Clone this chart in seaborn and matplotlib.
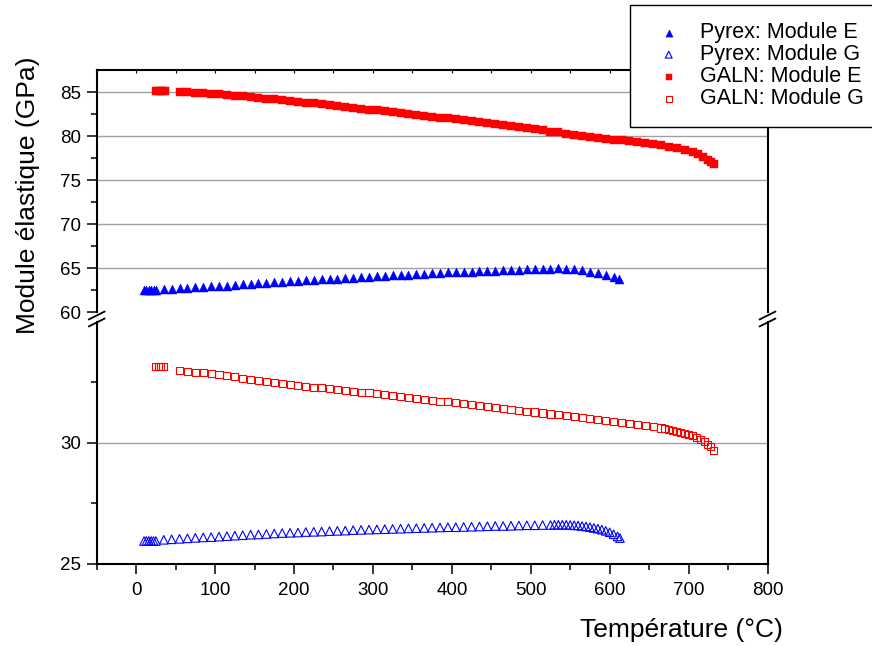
import numpy as np
import pandas as pd
import matplotlib
matplotlib.use("Agg")
import matplotlib.pyplot as plt
from matplotlib.lines import Line2D
from matplotlib.ticker import MultipleLocator, FixedLocator
import seaborn as sns

# ---- data ----
pyrex_E_T = [10, 13, 16, 19, 22, 25,
             35, 45, 55, 65, 75, 85, 95, 105, 115, 125, 135, 145, 155, 165, 175,
             185, 195, 205, 215, 225, 235, 245, 255, 265, 275, 285, 295, 305, 315,
             325, 335, 345, 355, 365, 375, 385, 395, 405, 415, 425, 435, 445, 455,
             465, 475, 485, 495, 505, 515, 525, 535, 545, 555, 565, 575, 585, 595,
             605, 612]
pyrex_E = [62.5, 62.5, 62.5, 62.5, 62.5, 62.5,
           62.6, 62.65, 62.7, 62.75, 62.8, 62.85, 62.9, 62.95, 63.0, 63.1, 63.15,
           63.2, 63.3, 63.35, 63.4, 63.45, 63.5, 63.55, 63.6, 63.65, 63.7, 63.75,
           63.8, 63.85, 63.9, 63.95, 64.0, 64.05, 64.1, 64.15, 64.2, 64.25, 64.3,
           64.35, 64.4, 64.45, 64.5, 64.52, 64.55, 64.6, 64.63, 64.67, 64.7, 64.73,
           64.77, 64.8, 64.83, 64.86, 64.9, 64.92, 64.95, 64.93, 64.85, 64.75,
           64.6, 64.45, 64.25, 64.0, 63.75]

pyrex_G_T = [10, 13, 16, 19, 22, 25,
             35, 45, 55, 65, 75, 85, 95, 105, 115, 125, 135, 145, 155, 165, 175,
             185, 195, 205, 215, 225, 235, 245, 255, 265, 275, 285, 295, 305, 315,
             325, 335, 345, 355, 365, 375, 385, 395, 405, 415, 425, 435, 445, 455,
             465, 475, 485, 495, 505, 515, 525, 530, 535, 540, 545, 550, 555, 560,
             565, 570, 575, 580, 585, 590, 595, 600, 605, 610, 613]
pyrex_G = [25.95, 25.95, 25.95, 25.95, 25.95, 25.95,
           26.0, 26.02, 26.04, 26.06, 26.08, 26.1, 26.11, 26.13, 26.15, 26.17,
           26.19, 26.21, 26.22, 26.24, 26.26, 26.28, 26.29, 26.3, 26.32, 26.33,
           26.34, 26.36, 26.37, 26.38, 26.4, 26.41, 26.42, 26.43, 26.44, 26.45,
           26.46, 26.47, 26.48, 26.49, 26.5, 26.51, 26.52, 26.52, 26.53, 26.54,
           26.55, 26.56, 26.57, 26.57, 26.58, 26.59, 26.6, 26.6, 26.61, 26.61,
           26.62, 26.62, 26.62, 26.62, 26.61, 26.6, 26.59, 26.57, 26.55, 26.52,
           26.49, 26.46, 26.42, 26.37, 26.31, 26.23, 26.14, 26.07]

galn_E_T = [25, 28, 31, 34, 37,
            55, 65, 75, 85, 95, 105, 115, 125, 135, 145, 155, 165, 175, 185, 195,
            205, 215, 225, 235, 245, 255, 265, 275, 285, 295, 305, 315, 325, 335,
            345, 355, 365, 375, 385, 395, 405, 415, 425, 435, 445, 455, 465, 475,
            485, 495, 505, 515, 525, 535, 545, 555, 565, 575, 585, 595, 605, 615,
            625, 635, 645, 655, 665, 675, 685, 695, 705, 712, 718, 724, 729, 732]
galn_E = [85.1, 85.1, 85.1, 85.1, 85.1,
          85.0, 84.95, 84.9, 84.85, 84.8, 84.75, 84.7, 84.6, 84.5, 84.45, 84.35,
          84.25, 84.15, 84.05, 83.95, 83.85, 83.75, 83.7, 83.6, 83.5, 83.4, 83.3,
          83.2, 83.1, 83.0, 82.9, 82.8, 82.7, 82.6, 82.5, 82.4, 82.3, 82.2, 82.1,
          82.0, 81.9, 81.8, 81.7, 81.55, 81.45, 81.35, 81.25, 81.1, 81.0, 80.9,
          80.75, 80.65, 80.5, 80.4, 80.25, 80.1, 80.0, 79.9, 79.8, 79.7, 79.6,
          79.5, 79.4, 79.3, 79.2, 79.1, 78.95, 78.8, 78.6, 78.4, 78.15, 77.9,
          77.6, 77.3, 77.0, 76.8]

galn_G_T = [25, 28, 31, 34,
            55, 65, 75, 85, 95, 105, 115, 125, 135, 145, 155, 165, 175, 185, 195,
            205, 215, 225, 235, 245, 255, 265, 275, 285, 295, 305, 315, 325, 335,
            345, 355, 365, 375, 385, 395, 405, 415, 425, 435, 445, 455, 465, 475,
            485, 495, 505, 515, 525, 535, 545, 555, 565, 575, 585, 595, 605, 615,
            625, 635, 645, 655, 665, 670, 675, 680, 685, 690, 695, 700, 705, 710,
            715, 720, 724, 728, 732]
galn_G = [33.15, 33.15, 33.15, 33.15,
          33.0, 32.97, 32.93, 32.9, 32.87, 32.83, 32.78, 32.73, 32.68, 32.63,
          32.58, 32.54, 32.5, 32.46, 32.42, 32.38, 32.35, 32.31, 32.28, 32.24,
          32.21, 32.18, 32.14, 32.1, 32.07, 32.04, 32.0, 31.96, 31.92, 31.88,
          31.84, 31.8, 31.77, 31.73, 31.7, 31.66, 31.62, 31.58, 31.55, 31.51,
          31.47, 31.44, 31.4, 31.36, 31.32, 31.28, 31.24, 31.2, 31.16, 31.12,
          31.09, 31.06, 31.02, 30.98, 30.94, 30.9, 30.86, 30.82, 30.78, 30.73,
          30.68, 30.62, 30.59, 30.55, 30.52, 30.48, 30.44, 30.4, 30.35, 30.3,
          30.23, 30.15, 30.05, 29.95, 29.85, 29.7]

labels = ["Pyrex: Module E", "Pyrex: Module G", "GALN: Module E", "GALN: Module G"]

sns.set_theme(style="ticks")
plt.rcParams["font.family"] = ["Liberation Sans", "DejaVu Sans"]
plt.rcParams["text.color"] = "black"
plt.rcParams["xtick.color"] = "black"
plt.rcParams["ytick.color"] = "black"
plt.rcParams["xtick.labelcolor"] = "black"
plt.rcParams["ytick.labelcolor"] = "black"

W, H = 872, 646
fig = plt.figure(figsize=(W / 100, H / 100), dpi=100)

def fx(px):
    return px / W

def fy(py):
    return 1 - py / H

x_left, x_right = 96.7, 767.5
top_up, bot_up = 70, 312
top_lo, bot_lo = 322, 564
ax_up = fig.add_axes([fx(x_left), fy(bot_up), fx(x_right - x_left), (bot_up - top_up) / H])
ax_lo = fig.add_axes([fx(x_left), fy(bot_lo), fx(x_right - x_left), (bot_lo - top_lo) / H])

df_pe = pd.DataFrame({"T": pyrex_E_T, "M": pyrex_E})
df_pg = pd.DataFrame({"T": pyrex_G_T, "M": pyrex_G})
df_ge = pd.DataFrame({"T": galn_E_T, "M": galn_E})
df_gg = pd.DataFrame({"T": galn_G_T, "M": galn_G})

blue, red = "#0000ff", "#ff0000"
sns.scatterplot(data=df_ge, x="T", y="M", ax=ax_up, marker="s", s=30,
                color=red, edgecolor=red, linewidth=0.3, label=labels[2], zorder=3)
sns.scatterplot(data=df_pe, x="T", y="M", ax=ax_up, marker="^", s=42,
                color=blue, edgecolor=blue, linewidth=0.3, label=labels[0], zorder=3)
sns.scatterplot(data=df_gg, x="T", y="M", ax=ax_lo, marker="s", s=26,
                facecolors="none", edgecolor=red, linewidth=0.8, label=labels[3], zorder=3)
sns.scatterplot(data=df_pg, x="T", y="M", ax=ax_lo, marker="^", s=38,
                facecolors="none", edgecolor=blue, linewidth=0.8, label=labels[1], zorder=3)

for ax in (ax_up, ax_lo):
    ax.set_xlim(-50, 800)
    ax.xaxis.set_major_locator(MultipleLocator(100))
    ax.xaxis.set_minor_locator(MultipleLocator(50))
    ax.set_xlabel("")
    ax.set_ylabel("")
    ax.get_legend().remove()
    for s in ax.spines.values():
        s.set_linewidth(1.5)
        s.set_color("black")
    ax.tick_params(axis="y", which="major", direction="out", length=7, width=1.1,
                   labelsize=13.5, pad=4, right=False)
    ax.tick_params(axis="y", which="minor", direction="out", length=4, width=1.1,
                   left=True, right=False)

ax_up.set_ylim(60, 87.5)
ax_up.yaxis.set_major_locator(FixedLocator([60, 65, 70, 75, 80, 85]))
ax_up.yaxis.set_minor_locator(FixedLocator([62.5, 67.5, 72.5, 77.5, 82.5]))
ax_up.spines["bottom"].set_visible(False)
ax_up.tick_params(axis="x", which="both", bottom=False, labelbottom=False,
                  top=True, direction="in", length=2.5, width=0.8)

ax_lo.set_ylim(25, 35)
ax_lo.yaxis.set_major_locator(FixedLocator([25, 30]))
ax_lo.yaxis.set_minor_locator(FixedLocator([27.5, 32.5]))
ax_lo.spines["top"].set_visible(False)
ax_lo.tick_params(axis="x", which="major", direction="out", length=7, width=1.1,
                  labelsize=13.5, pad=6, top=False)
ax_lo.tick_params(axis="x", which="minor", direction="out", length=4, width=1.1,
                  bottom=True, top=False)

# horizontal grid at major ticks
for ax, skip in ((ax_up, 60), (ax_lo, 25)):
    ax.yaxis.grid(True, which="major", color="#a0a0a0", linewidth=1.0)
    ax.xaxis.grid(False)
    ax.set_axisbelow(True)
    for gl, v in zip(ax.get_ygridlines(), ax.get_yticks()):
        if v == skip:
            gl.set_visible(False)

# break marks on both spines
for xs in (x_left, x_right):
    for yc in (315.5, 322.5):
        fig.add_artist(Line2D([fx(xs - 8), fx(xs + 8)], [fy(yc + 4), fy(yc - 4)],
                              color="black", linewidth=1.3))

fig.text(fx(28), fy(195), "Module élastique (GPa)", rotation=90,
         ha="center", va="center", fontsize=19)
fig.text(fx(681), fy(630), "Température (°C)", ha="center", va="center", fontsize=19)

# legend gathered from both panels
h_up, l_up = ax_up.get_legend_handles_labels()
h_lo, l_lo = ax_lo.get_legend_handles_labels()
hmap = dict(zip(l_up + l_lo, h_up + h_lo))
leg = fig.legend([hmap[l] for l in labels], labels, loc="upper left",
                 bbox_to_anchor=(fx(630), fy(5)), fontsize=15.5,
                 frameon=True, fancybox=False, shadow=False, framealpha=1,
                 edgecolor="black", borderpad=0.8, labelspacing=0.05,
                 handlelength=2.0, handletextpad=0.45, borderaxespad=0,
                 markerscale=0.8)
leg.get_frame().set_linewidth(1.0)

fig.savefig("out.png", dpi=100)
